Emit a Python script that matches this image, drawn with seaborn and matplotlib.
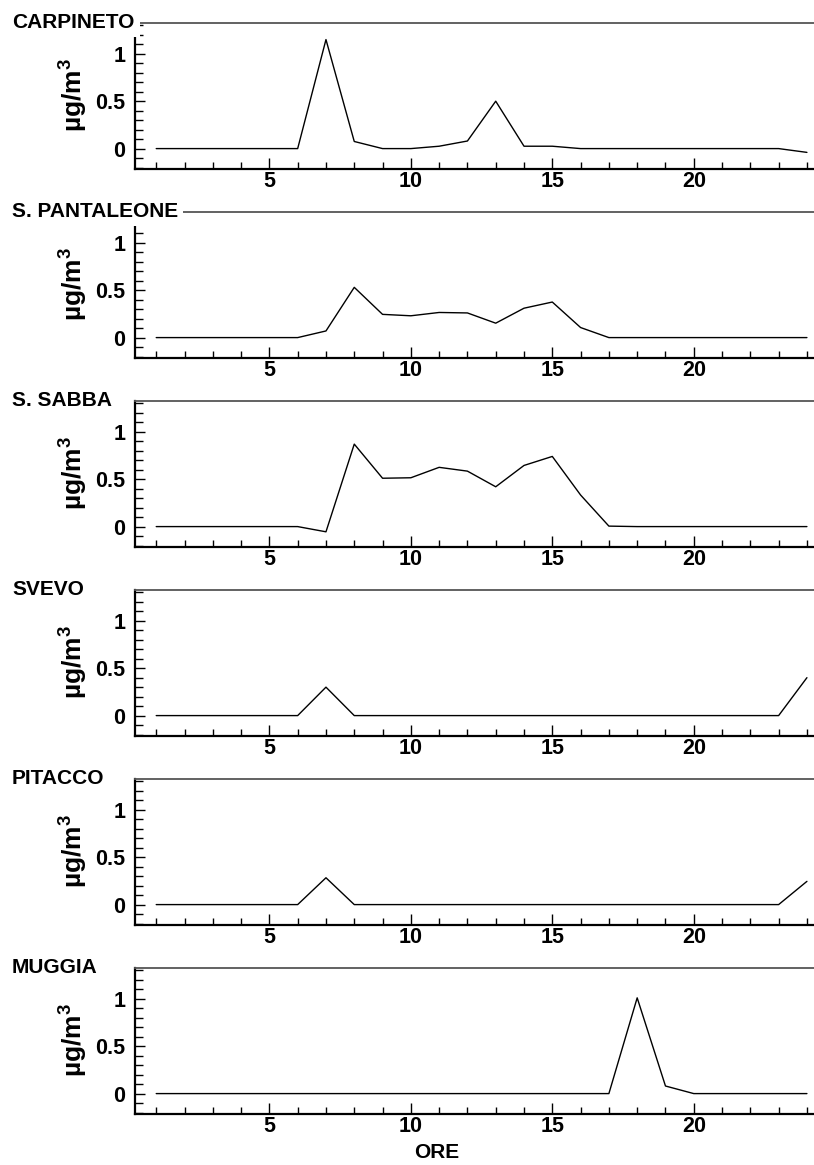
import matplotlib
matplotlib.use("Agg")
import matplotlib.pyplot as plt
from matplotlib.ticker import MultipleLocator, FixedLocator
import numpy as np
import pandas as pd
import seaborn as sns

# Hourly concentrations (µg/m³) for each monitoring station
ore = list(range(1, 25))

carpineto = [0, 0, 0, 0, 0, 0, 1.15, 0.075, 0.0, 0.0, 0.025, 0.08,
             0.5, 0.025, 0.025, 0, 0, 0, 0, 0, 0, 0, 0, -0.04]
s_pantaleone = [0, 0, 0, 0, 0, 0, 0.07, 0.53, 0.245, 0.23, 0.265, 0.26,
                0.152, 0.31, 0.375, 0.106, 0, 0, 0, 0, 0, 0, 0, 0]
s_sabba = [0, 0, 0, 0, 0, 0, -0.055, 0.87, 0.51, 0.515, 0.625, 0.585,
           0.42, 0.645, 0.74, 0.333, 0.005, 0, 0, 0, 0, 0, 0, 0]
svevo = [0, 0, 0, 0, 0, 0, 0.30, 0, 0, 0, 0, 0,
         0, 0, 0, 0, 0, 0, 0, 0, 0, 0, 0, 0.40]
pitacco = [0, 0, 0, 0, 0, 0, 0.283, 0, 0, 0, 0, 0,
           0, 0, 0, 0, 0, 0, 0, 0, 0, 0, 0, 0.245]
muggia = [0, 0, 0, 0, 0, 0, 0, 0, 0, 0, 0, 0,
          0, 0, 0, 0, 0, 1.01, 0.08, 0, 0, 0, 0, 0]

stazioni = ["CARPINETO", "S. PANTALEONE", "S. SABBA", "SVEVO", "PITACCO", "MUGGIA"]
serie = [carpineto, s_pantaleone, s_sabba, svevo, pitacco, muggia]

x_major = [5, 10, 15, 20]

df = pd.DataFrame({
    "ore": ore * len(stazioni),
    "stazione": np.repeat(stazioni, len(ore)),
    "valore": np.concatenate(serie),
})

sns.set_style("ticks")
plt.rcParams["font.family"] = ["Liberation Sans", "DejaVu Sans"]
plt.rcParams["font.weight"] = "bold"
plt.rcParams["mathtext.default"] = "regular"
for key in ("text.color", "axes.labelcolor", "xtick.color", "ytick.color",
            "xtick.labelcolor", "ytick.labelcolor"):
    plt.rcParams[key] = "black"

W, H = 814, 1165
fig = plt.figure(figsize=(W / 100, H / 100), dpi=100)

left_px, right_px = 135, 814
top0, step, height = 22.5, 189, 146

for i, nome in enumerate(stazioni):
    top = top0 + step * i
    ax = fig.add_axes([left_px / W, 1 - (top + height) / H,
                       (right_px - left_px) / W, height / H])
    sub = df[df["stazione"] == nome]
    sns.lineplot(data=sub, x="ore", y="valore", ax=ax, color="black",
                 linewidth=1.0, legend=False)

    ax.set_xlim(0.25, 24.25)
    ax.set_ylim(-0.21, 1.33)

    ax.xaxis.set_major_locator(FixedLocator(x_major))
    ax.xaxis.set_minor_locator(MultipleLocator(1))
    ax.yaxis.set_major_locator(FixedLocator([0, 0.5, 1]))
    ax.yaxis.set_minor_locator(MultipleLocator(0.1))
    ax.set_yticklabels(["0", "0.5", "1"])

    ax.tick_params(axis="both", which="both", direction="in", colors="black",
                   labelsize=15.5)
    ax.tick_params(axis="x", which="major", length=8, width=1.0, pad=2)
    ax.tick_params(axis="x", which="minor", length=5, width=1.0)
    ax.tick_params(axis="y", which="major", length=7, width=1.0, pad=7)
    ax.tick_params(axis="y", which="minor", length=6, width=1.0)
    for lab in ax.get_xticklabels() + ax.get_yticklabels():
        lab.set_fontweight("bold")

    ax.spines["right"].set_visible(False)
    ax.spines["left"].set_linewidth(1.6)
    ax.spines["bottom"].set_linewidth(1.6)
    ax.spines["left"].set_color("black")
    ax.spines["bottom"].set_color("black")
    ax.spines["top"].set_linewidth(1.3)
    ax.spines["top"].set_color("#555555")

    ax.set_ylabel("µg/m$^{3}$", fontsize=19, fontweight="bold")
    ax.yaxis.set_label_coords((90 - left_px) / (right_px - left_px), 0.5)

    if i == len(stazioni) - 1:
        ax.set_xlabel("ORE", fontsize=15, fontweight="bold")
        ax.xaxis.set_label_coords((437 - left_px) / (right_px - left_px),
                                  -(1143 - (top + height)) / height)
    else:
        ax.set_xlabel("")

    fig.text(12 / W, 1 - top / H, nome, fontsize=15, fontweight="bold",
             ha="left", va="center", zorder=5,
             bbox=dict(boxstyle="square,pad=0.25", facecolor="white",
                       edgecolor="none"))

fig.savefig("out.png", dpi=100)
